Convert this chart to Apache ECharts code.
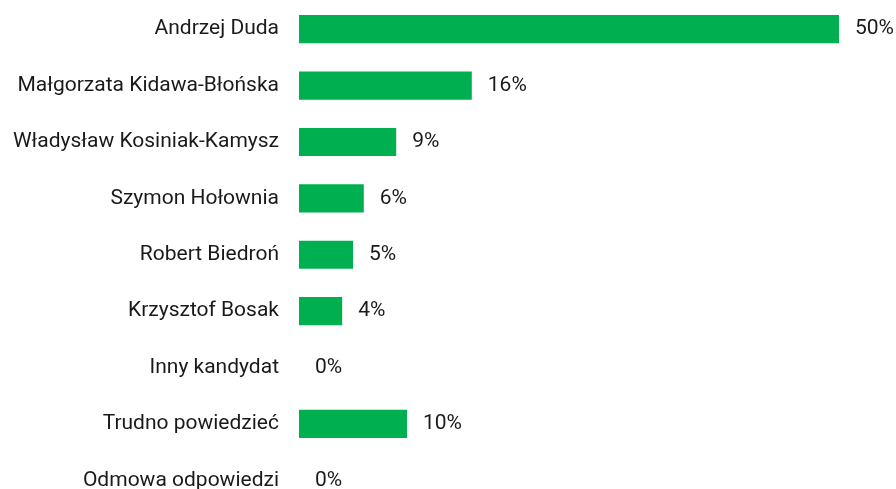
<!DOCTYPE html>
<html><head><meta charset="utf-8">
<script src="https://cdn.jsdelivr.net/npm/echarts@6/dist/echarts.min.js"></script>
<style>html,body{margin:0;padding:0;background:#fff;overflow:hidden}#c{width:896px;height:509px}</style>
</head><body><div id="c"></div>
<script>
const categories = ["Andrzej Duda","Małgorzata Kidawa-Błońska","Władysław Kosiniak-Kamysz","Szymon Hołownia","Robert Biedroń","Krzysztof Bosak","Inny kandydat","Trudno powiedzieć","Odmowa odpowiedzi"];
const values = [50,16,9,6,5,4,0,10,0];
const chart = echarts.init(document.getElementById('c'), null, {renderer:'canvas'});
chart.setOption({
  animation:false,
  grid:{left:299, top:1, right:57, bottom:0.5, containLabel:false},
  xAxis:{type:'value', min:0, max:50, show:false},
  yAxis:{type:'category', data:categories, inverse:true,
    axisLine:{show:false}, axisTick:{show:false}, splitLine:{show:false},
    axisLabel:{margin:20, fontFamily:'Roboto', fontSize:21, color:'#1a1a1a'}},
  series:[{type:'bar', data:values, barWidth:'50%',
    itemStyle:{color:'#00b050'},
    label:{show:true, position:'right', distance:16, formatter:'{c}%', fontFamily:'Roboto', fontSize:21, color:'#1a1a1a'}}]
});
</script></body></html>
